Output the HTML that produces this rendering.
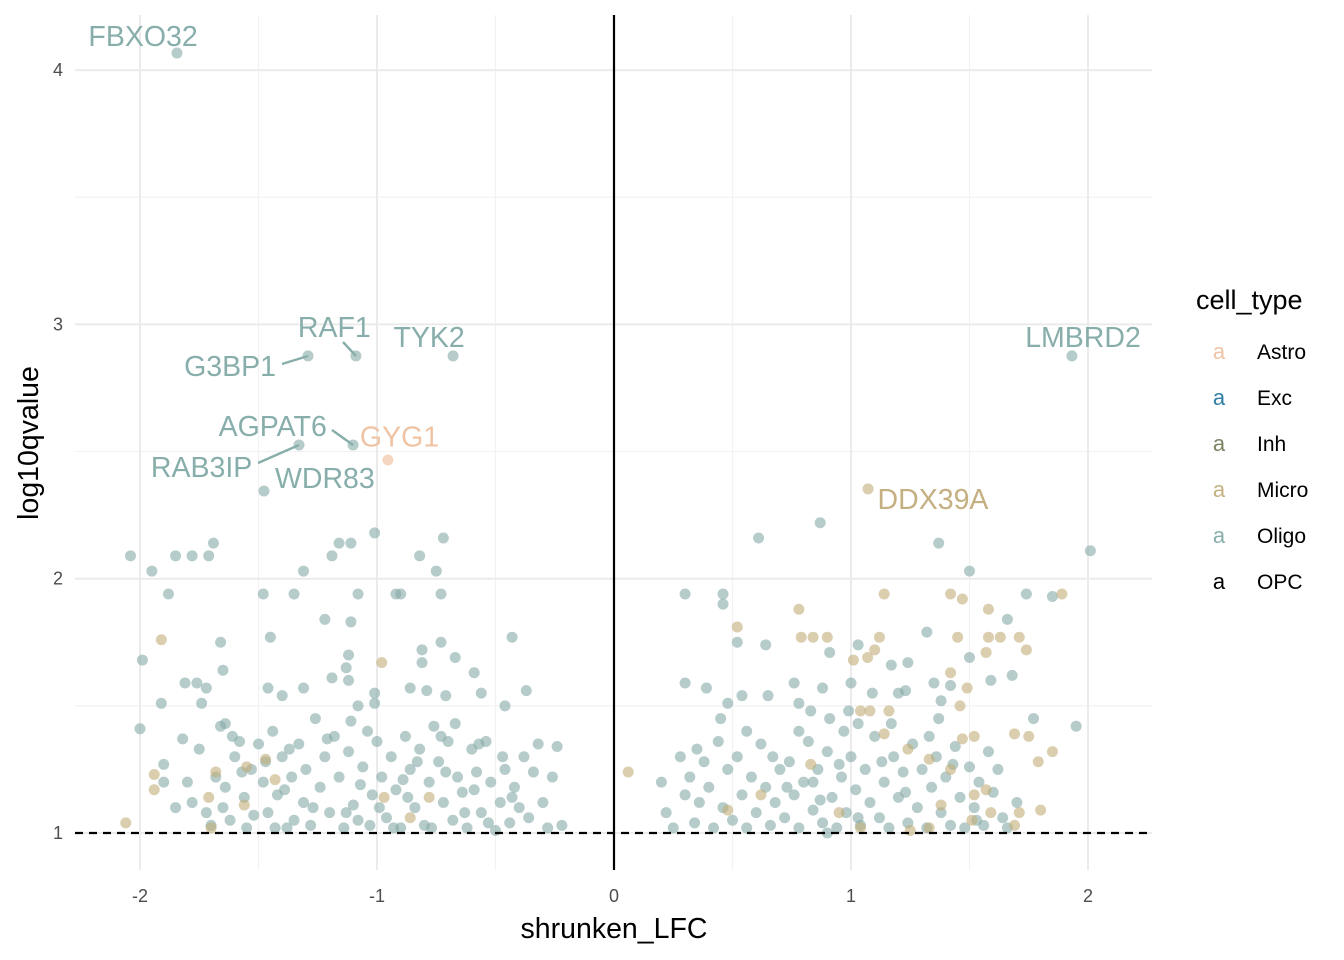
<!DOCTYPE html>
<html><head><meta charset="utf-8"><style>
body{margin:0;background:#fff;}
svg{display:block;font-family:"Liberation Sans",sans-serif;}
</style></head><body>
<svg id="chart" width="1344" height="960" xmlns="http://www.w3.org/2000/svg">
<g id="grid"></g>
<g id="points"></g>
<g id="labels"></g>
<g id="axes"></g>
<text x="614" y="938" font-size="28.5" text-anchor="middle" fill="#000">shrunken_LFC</text>
<text transform="translate(38,443) rotate(-90)" font-size="28.5" text-anchor="middle" fill="#000">log10qvalue</text>
<g id="legend">
<text x="1196" y="309" font-size="27" fill="#000">cell_type</text>
</g>
</svg>
<script>
const xTicks=[-2,-1,0,1,2];
const xTickLabels=["-2","-1","0","1","2"];
const yTicks=[1,2,3,4];
const yTickLabels=["1","2","3","4"];
const cellTypes=["Astro","Exc","Inh","Micro","Oligo","OPC"];
const oligoX=[-1.844,-1.291,-1.089,-0.679,-1.101,-1.329,-1.477,1.932,
-2.04,-1.95,-1.85,-1.78,-1.71,-1.69,-1.88,-1.99,-1.66,-1.48,-1.35,-1.31,-1.45,-1.22,-1.19,-1.16,-1.11,-1.08,-1.11,-1.12,-1.01,-0.92,-0.90,-0.82,-0.75,-0.72,-0.73,-0.73,-0.81,-0.67,-0.59,-0.43,-0.81,
-2.0,-1.91,-1.81,-1.76,-1.72,-1.74,-1.65,-1.64,-1.46,-1.40,-1.31,-1.19,-1.12,-1.01,-1.01,-1.08,-1.13,-0.86,-0.79,-0.71,-0.56,-0.46,-0.37,
-1.9,-1.85,-1.82,-1.8,-1.78,-1.75,-1.72,-1.7,-1.68,-1.66,-1.64,-1.62,-1.6,-1.58,-1.56,-1.55,-1.53,-1.5,-1.48,-1.46,-1.44,-1.42,-1.4,-1.38,-1.36,-1.35,-1.33,-1.31,-1.3,-1.28,-1.26,-1.24,-1.22,-1.2,-1.18,-1.16,-1.14,-1.12,-1.1,-1.08,-1.06,-1.04,-1.02,-1.0,-0.98,-0.96,-0.94,-0.92,-0.9,-0.88,-0.86,-0.84,-0.82,-0.8,-0.78,-0.76,-0.74,-0.72,-0.7,-0.68,-0.66,-0.64,-0.62,-0.6,-0.58,-0.56,-0.54,-0.52,-0.5,-0.48,-0.46,-0.44,-0.42,-0.4,-0.38,-0.36,-0.34,-0.32,-0.3,-0.28,-0.26,-0.24,-0.22,
-1.9,-1.65,-1.52,-1.47,-1.43,-1.39,-1.27,-1.21,-1.13,-1.07,-0.99,-0.93,-0.87,-0.83,-0.77,-0.71,-0.63,-0.59,-0.53,-0.47,-0.43,-0.57,-0.67,-0.73,-1.57,-1.61,-1.37,-1.11,-0.89,-1.03,
0.30,0.46,0.46,0.61,0.52,0.64,0.30,0.39,0.54,0.65,0.48,0.76,0.88,0.91,1.03,0.87,1.37,1.50,1.74,1.85,2.01,1.17,1.24,1.32,1.50,1.42,1.68,1.66,1.59,1.95,1.77,1.09,1.20,1.23,0.99,0.91,0.78,1.00,1.35,1.38,1.03,0.83,
0.2,0.22,0.25,0.28,0.3,0.32,0.34,0.36,0.38,0.4,0.42,0.44,0.46,0.48,0.5,0.52,0.54,0.56,0.58,0.6,0.62,0.64,0.66,0.68,0.7,0.72,0.74,0.76,0.78,0.8,0.82,0.84,0.86,0.88,0.9,0.92,0.94,0.96,0.98,1.0,1.02,1.04,1.06,1.08,1.1,1.12,1.14,1.16,1.18,1.2,1.22,1.24,1.26,1.28,1.3,1.32,1.34,1.36,1.38,1.4,1.42,1.44,1.46,1.48,1.5,1.52,1.54,1.56,1.58,1.6,1.62,1.64,1.66,1.7,
0.84,0.9,0.95,0.73,0.67,0.87,1.03,1.13,1.23,1.33,1.43,1.53,0.78,0.97,1.17,1.37,0.56,0.45,0.35];
const oligoY=[4.067,2.876,2.876,2.876,2.526,2.526,2.345,2.876,
2.09,2.03,2.09,2.09,2.09,2.14,1.94,1.68,1.75,1.94,1.94,2.03,1.77,1.84,2.09,2.14,2.14,1.94,1.83,1.70,2.18,1.94,1.94,2.09,2.03,2.16,1.94,1.75,1.72,1.69,1.63,1.77,1.67,
1.41,1.51,1.59,1.59,1.57,1.51,1.64,1.43,1.57,1.54,1.57,1.61,1.60,1.55,1.51,1.50,1.65,1.57,1.56,1.54,1.55,1.50,1.56,
1.27,1.10,1.37,1.20,1.12,1.33,1.08,1.03,1.22,1.42,1.18,1.05,1.30,1.36,1.14,1.02,1.25,1.35,1.20,1.08,1.40,1.15,1.30,1.02,1.22,1.05,1.35,1.12,1.25,1.03,1.45,1.18,1.30,1.08,1.38,1.22,1.02,1.32,1.11,1.05,1.26,1.40,1.15,1.36,1.22,1.06,1.30,1.17,1.02,1.38,1.25,1.10,1.33,1.03,1.20,1.42,1.28,1.12,1.36,1.05,1.22,1.16,1.02,1.33,1.24,1.08,1.36,1.20,1.01,1.12,1.25,1.04,1.18,1.10,1.30,1.06,1.24,1.35,1.12,1.02,1.22,1.34,1.03,
1.2,1.1,1.07,1.28,1.02,1.17,1.1,1.37,1.08,1.19,1.1,1.02,1.14,1.28,1.02,1.24,1.08,1.17,1.04,1.3,1.14,1.35,1.43,1.38,1.24,1.38,1.33,1.44,1.21,1.03,
1.94,1.90,1.94,2.16,1.75,1.74,1.59,1.57,1.54,1.54,1.51,1.59,1.57,1.71,1.74,2.22,2.14,2.03,1.94,1.93,2.11,1.66,1.67,1.79,1.69,1.58,1.62,1.84,1.60,1.42,1.45,1.55,1.55,1.56,1.48,1.45,1.51,1.59,1.59,1.52,1.43,1.48,
1.2,1.08,1.02,1.3,1.15,1.22,1.04,1.12,1.28,1.18,1.02,1.36,1.1,1.25,1.05,1.3,1.15,1.02,1.22,1.08,1.35,1.18,1.03,1.12,1.25,1.06,1.28,1.15,1.02,1.2,1.36,1.09,1.25,1.04,1.32,1.14,1.02,1.22,1.08,1.3,1.17,1.03,1.25,1.12,1.38,1.06,1.2,1.02,1.3,1.14,1.24,1.04,1.35,1.1,1.25,1.02,1.18,1.3,1.08,1.22,1.03,1.34,1.14,1.02,1.26,1.1,1.2,1.03,1.32,1.16,1.25,1.06,1.02,1.12,
1.2,1.0,1.27,1.18,1.3,1.13,1.06,1.28,1.16,1.38,1.27,1.05,1.4,1.4,1.43,1.45,1.4,1.45,1.33];
const microX=[1.072,-1.91,-0.98,-2.06,-1.94,-1.94,-1.68,-1.70,-1.56,-1.55,-1.43,-0.97,-0.86,-0.78,-1.47,-1.71,
0.78,0.52,0.79,0.84,0.90,1.01,1.07,1.10,1.12,1.14,1.42,1.47,1.58,1.45,1.58,1.63,1.71,1.74,1.57,1.42,1.49,1.46,1.04,1.08,1.14,1.24,1.33,1.42,1.52,1.57,1.69,1.75,1.85,1.79,1.80,1.71,1.69,1.59,1.52,1.38,1.33,1.25,1.04,0.95,0.83,0.62,0.48,0.06,1.16,1.89,1.47,1.51];
const microY=[2.353,1.76,1.67,1.04,1.23,1.17,1.24,1.02,1.11,1.26,1.21,1.14,1.06,1.14,1.29,1.14,
1.88,1.81,1.77,1.77,1.77,1.68,1.69,1.72,1.77,1.94,1.94,1.92,1.88,1.77,1.77,1.77,1.77,1.72,1.71,1.63,1.57,1.50,1.48,1.48,1.39,1.33,1.29,1.25,1.38,1.17,1.39,1.38,1.32,1.28,1.09,1.08,1.03,1.08,1.15,1.11,1.02,1.01,1.02,1.08,1.27,1.15,1.09,1.24,1.48,1.94,1.37,1.05];
const astroX=[-0.954];
const astroY=[2.467];
const labelGenes=["FBXO32","RAF1","TYK2","G3BP1","AGPAT6","GYG1","RAB3IP","WDR83","LMBRD2","DDX39A"];
const labelX=[-1.987,-1.18,-0.78,-1.62,-1.44,-0.905,-1.74,-1.22,1.979,1.346];
const labelY=[4.134,2.99,2.95,2.836,2.60,2.56,2.44,2.396,2.95,2.313];
const labelType=["Oligo","Oligo","Oligo","Oligo","Oligo","Astro","Oligo","Oligo","Oligo","Micro"];

const NS="http://www.w3.org/2000/svg";
const L=75,R=1152,T=15,B=870;
const sx=v=>614+v*237;
const sy=v=>833-(v-1)*254.3;
const ptFill={Astro:"#eebd98",Micro:"#c2ad7a",Oligo:"#86aaa6"};
const txtFill={Astro:"#efc4a4",Micro:"#c4b080",Oligo:"#88aeab",Exc:"#2f7ea5",Inh:"#7a8464",OPC:"#000"};
function mk(tag,attrs,parent){const e=document.createElementNS(NS,tag);for(const k in attrs)e.setAttribute(k,attrs[k]);parent.appendChild(e);return e;}
const grid=document.getElementById('grid');
[-1.5,-0.5,0.5,1.5].forEach(v=>{const l=mk('line',{x1:sx(v),x2:sx(v),y1:T,y2:B,stroke:'#f2f2f2','stroke-width':1.2},grid);});
[1.5,2.5,3.5].forEach(v=>{const l=mk('line',{x1:L,x2:R,y1:sy(v),y2:sy(v),stroke:'#f2f2f2','stroke-width':1.2},grid);});
xTicks.forEach(v=>{const l=mk('line',{x1:sx(v),x2:sx(v),y1:T,y2:B,stroke:'#ebebeb','stroke-width':2},grid);});
yTicks.forEach(v=>{const l=mk('line',{x1:L,x2:R,y1:sy(v),y2:sy(v),stroke:'#ebebeb','stroke-width':2},grid);});
const pts=document.getElementById('points');
function drawSeries(xs,ys,type){xs.forEach((x,i)=>{const c=mk('circle',{cx:sx(x),cy:sy(ys[i]),r:5.5,fill:ptFill[type],'fill-opacity':0.6},pts);});}
drawSeries(oligoX,oligoY,"Oligo");
drawSeries(microX,microY,"Micro");
drawSeries(astroX,astroY,"Astro");
const ax=document.getElementById('axes');
let z=mk('line',{x1:sx(0),x2:sx(0),y1:T,y2:B,stroke:'#000','stroke-width':2.2},ax);

let th=mk('line',{x1:L,x2:R,y1:sy(1),y2:sy(1),stroke:'#000','stroke-width':2.2,'stroke-dasharray':'8,6'},ax);

xTicks.forEach((v,i)=>{const t=mk('text',{x:sx(v),y:902,'font-size':18,'text-anchor':'middle',fill:'#4d4d4d'},ax);t.textContent=xTickLabels[i];});
yTicks.forEach((v,i)=>{const t=mk('text',{x:63,y:sy(v)+6,'font-size':18,'text-anchor':'end',fill:'#4d4d4d'},ax);t.textContent=yTickLabels[i];});
const lab=document.getElementById('labels');
const segs=[[3,282,364,308,356],[1,343,342,356,356],[4,332,430,353,445],[6,258,463,299,445]];
segs.forEach(s=>{const l=mk('line',{x1:s[1],y1:s[2],x2:s[3],y2:s[4],stroke:'#88aeab','stroke-width':2.4},lab);});
labelGenes.forEach((g,i)=>{const t=mk('text',{x:sx(labelX[i]),y:sy(labelY[i])+10,'font-size':28.5,'text-anchor':'middle',fill:txtFill[labelType[i]]},lab);t.textContent=g;});
const lg=document.getElementById('legend');
cellTypes.forEach((c,i)=>{const y=351+i*46;
const k=mk('text',{x:1219,y:y+8,'font-size':22,'text-anchor':'middle',fill:txtFill[c]},lg);k.textContent='a';
const t=mk('text',{x:1257,y:y+8,'font-size':21,fill:'#000'},lg);t.textContent=c;});
</script>
</body></html>
